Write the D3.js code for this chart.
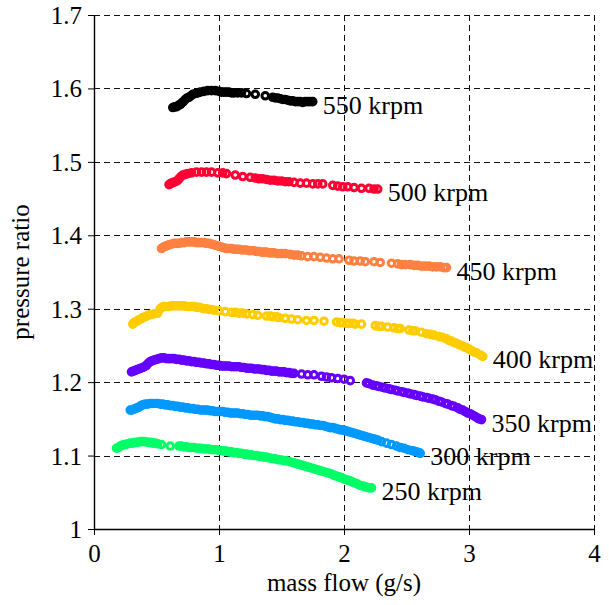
<!DOCTYPE html>
<html lang="en">
<head>
<meta charset="UTF-8" />
<title>pressure ratio vs mass flow</title>
<script src="https://d3js.org/d3.v7.min.js"></script>
<style>
  body { margin: 0; background: #fff; }
  text { font-family: "Liberation Serif", "Times New Roman", serif; fill: #000; }
</style>
</head>
<body>
<div class="canvas"></div>
<script>
// speed lines (krpm) and the measured points, [mass flow g/s, pressure ratio]
const speeds = ["550 krpm", "500 krpm", "450 krpm", "400 krpm", "350 krpm", "300 krpm", "250 krpm"];
const colors = ["#000000", "#ff0033", "#ff8040", "#ffcc00", "#6600ff", "#0099ff", "#00ff66"];

const s550 = [[0.63,1.574],[0.645,1.575],[0.66,1.575],[0.675,1.577],[0.69,1.578],[0.70,1.580],[0.715,1.582],[0.73,1.585],[0.745,1.587],[0.76,1.588],[0.775,1.590],[0.79,1.592],[0.81,1.593],[0.83,1.594],[0.85,1.595],[0.88,1.596],[0.91,1.597],[0.94,1.597],[0.97,1.597],[1.00,1.596],[1.02,1.595],[1.04,1.595],[1.06,1.595],[1.08,1.595],[1.10,1.594],[1.12,1.594],[1.15,1.594],[1.18,1.594],[1.22,1.593],[1.29,1.592],[1.37,1.590],[1.43,1.588],[1.45,1.587],[1.47,1.587],[1.49,1.586],[1.51,1.585],[1.53,1.585],[1.55,1.584],[1.57,1.583],[1.59,1.583],[1.61,1.582],[1.63,1.582],[1.65,1.582],[1.67,1.581],[1.69,1.582],[1.71,1.582],[1.73,1.582],[1.75,1.582]];
const s500 = [[0.60,1.469],[0.61,1.470],[0.62,1.471],[0.635,1.472],[0.65,1.473],[0.665,1.474],[0.68,1.477],[0.695,1.480],[0.71,1.482],[0.73,1.483],[0.75,1.484],[0.78,1.485],[0.82,1.486],[0.86,1.486],[0.90,1.486],[0.94,1.486],[0.99,1.485],[1.03,1.485],[1.06,1.484],[1.13,1.482],[1.19,1.480],[1.25,1.479],[1.29,1.478],[1.32,1.477],[1.35,1.477],[1.38,1.476],[1.41,1.475],[1.44,1.475],[1.47,1.474],[1.50,1.474],[1.53,1.473],[1.56,1.473],[1.60,1.472],[1.65,1.471],[1.70,1.471],[1.75,1.470],[1.79,1.470],[1.83,1.470],[1.91,1.468],[1.95,1.467],[1.99,1.466],[2.03,1.466],[2.08,1.465],[2.14,1.464],[2.20,1.464],[2.24,1.463],[2.27,1.463]];
const s450 = [[0.54,1.382],[0.555,1.384],[0.57,1.385],[0.585,1.386],[0.60,1.387],[0.62,1.388],[0.64,1.389],[0.66,1.389],[0.68,1.389],[0.70,1.390],[0.72,1.390],[0.74,1.391],[0.76,1.391],[0.78,1.391],[0.80,1.391],[0.82,1.390],[0.84,1.390],[0.86,1.390],[0.88,1.390],[0.90,1.389],[0.92,1.389],[0.94,1.388],[0.96,1.387],[0.98,1.386],[1.00,1.385],[1.02,1.384],[1.04,1.383],[1.06,1.382],[1.08,1.382],[1.10,1.382],[1.12,1.381],[1.14,1.381],[1.16,1.381],[1.18,1.380],[1.20,1.380],[1.22,1.380],[1.24,1.379],[1.26,1.379],[1.28,1.379],[1.30,1.378],[1.32,1.378],[1.34,1.377],[1.36,1.377],[1.38,1.377],[1.40,1.376],[1.42,1.376],[1.44,1.376],[1.47,1.375],[1.50,1.375],[1.53,1.375],[1.57,1.374],[1.60,1.373],[1.63,1.373],[1.66,1.372],[1.71,1.371],[1.76,1.371],[1.81,1.370],[1.86,1.369],[1.91,1.368],[1.96,1.368],[2.04,1.366],[2.08,1.365],[2.13,1.365],[2.17,1.364],[2.24,1.364],[2.29,1.363],[2.38,1.362],[2.43,1.361],[2.46,1.360],[2.49,1.360],[2.53,1.360],[2.56,1.359],[2.59,1.359],[2.62,1.358],[2.65,1.358],[2.68,1.358],[2.71,1.357],[2.74,1.357],[2.77,1.357],[2.80,1.356],[2.82,1.356]];
const s400 = [[0.31,1.279],[0.32,1.281],[0.33,1.282],[0.345,1.283],[0.36,1.285],[0.375,1.286],[0.39,1.288],[0.41,1.289],[0.43,1.291],[0.45,1.292],[0.48,1.293],[0.51,1.294],[0.53,1.300],[0.545,1.302],[0.56,1.303],[0.58,1.303],[0.60,1.303],[0.62,1.304],[0.64,1.304],[0.66,1.304],[0.68,1.304],[0.70,1.304],[0.72,1.304],[0.74,1.303],[0.76,1.303],[0.78,1.303],[0.80,1.303],[0.82,1.302],[0.84,1.302],[0.86,1.301],[0.88,1.300],[0.90,1.300],[0.92,1.299],[0.94,1.299],[0.96,1.298],[1.00,1.297],[1.05,1.296],[1.10,1.295],[1.13,1.295],[1.16,1.294],[1.19,1.294],[1.22,1.293],[1.27,1.292],[1.31,1.291],[1.38,1.290],[1.41,1.290],[1.43,1.289],[1.46,1.289],[1.48,1.288],[1.53,1.287],[1.58,1.286],[1.63,1.285],[1.70,1.284],[1.76,1.284],[1.84,1.283],[1.94,1.282],[1.97,1.281],[1.99,1.281],[2.02,1.280],[2.04,1.280],[2.07,1.280],[2.09,1.279],[2.14,1.279],[2.25,1.277],[2.28,1.276],[2.30,1.276],[2.35,1.275],[2.40,1.274],[2.43,1.273],[2.45,1.273],[2.52,1.271],[2.55,1.270],[2.57,1.270],[2.62,1.268],[2.66,1.266],[2.69,1.265],[2.72,1.264],[2.76,1.262],[2.79,1.261],[2.82,1.259],[2.84,1.257],[2.86,1.256],[2.88,1.254],[2.90,1.253],[2.92,1.251],[2.94,1.250],[2.96,1.248],[2.98,1.247],[3.00,1.245],[3.02,1.243],[3.04,1.241],[3.06,1.240],[3.09,1.237],[3.11,1.235]];
const s350 = [[0.30,1.214],[0.315,1.215],[0.33,1.216],[0.345,1.217],[0.36,1.218],[0.375,1.219],[0.39,1.220],[0.405,1.221],[0.42,1.223],[0.435,1.226],[0.45,1.228],[0.465,1.229],[0.48,1.230],[0.50,1.231],[0.52,1.232],[0.54,1.233],[0.56,1.233],[0.58,1.232],[0.60,1.232],[0.62,1.232],[0.64,1.232],[0.66,1.231],[0.68,1.231],[0.70,1.230],[0.72,1.230],[0.74,1.229],[0.76,1.229],[0.78,1.228],[0.80,1.228],[0.82,1.227],[0.84,1.227],[0.86,1.226],[0.88,1.226],[0.90,1.225],[0.92,1.225],[0.94,1.224],[0.96,1.224],[0.98,1.223],[1.00,1.223],[1.02,1.222],[1.04,1.222],[1.06,1.222],[1.08,1.222],[1.10,1.221],[1.12,1.221],[1.14,1.221],[1.16,1.221],[1.18,1.220],[1.20,1.220],[1.22,1.219],[1.24,1.219],[1.26,1.219],[1.28,1.218],[1.30,1.218],[1.32,1.218],[1.34,1.217],[1.36,1.217],[1.38,1.216],[1.40,1.216],[1.42,1.215],[1.44,1.215],[1.46,1.215],[1.48,1.214],[1.50,1.214],[1.52,1.214],[1.54,1.213],[1.56,1.213],[1.58,1.212],[1.60,1.212],[1.66,1.211],[1.71,1.210],[1.76,1.210],[1.82,1.208],[1.86,1.207],[1.90,1.206],[1.95,1.205],[2.00,1.204],[2.05,1.202],[2.18,1.199],[2.20,1.198],[2.23,1.196],[2.26,1.195],[2.28,1.194],[2.31,1.193],[2.33,1.192],[2.36,1.191],[2.38,1.190],[2.41,1.189],[2.43,1.188],[2.46,1.187],[2.48,1.186],[2.51,1.185],[2.53,1.184],[2.56,1.183],[2.58,1.182],[2.61,1.181],[2.63,1.180],[2.66,1.179],[2.68,1.178],[2.71,1.177],[2.73,1.176],[2.76,1.174],[2.78,1.173],[2.81,1.171],[2.83,1.170],[2.86,1.168],[2.88,1.167],[2.91,1.165],[2.93,1.163],[2.95,1.162],[2.97,1.160],[2.99,1.158],[3.01,1.157],[3.03,1.155],[3.05,1.153],[3.07,1.151],[3.08,1.150],[3.10,1.149]];
const s300 = [[0.29,1.162],[0.30,1.162],[0.315,1.163],[0.33,1.164],[0.345,1.165],[0.36,1.166],[0.375,1.168],[0.39,1.169],[0.41,1.170],[0.43,1.170],[0.45,1.171],[0.47,1.171],[0.49,1.171],[0.51,1.171],[0.53,1.170],[0.55,1.170],[0.57,1.169],[0.59,1.169],[0.61,1.168],[0.63,1.168],[0.65,1.167],[0.67,1.167],[0.69,1.166],[0.71,1.166],[0.73,1.165],[0.75,1.165],[0.77,1.164],[0.79,1.164],[0.81,1.163],[0.83,1.163],[0.85,1.162],[0.87,1.162],[0.89,1.162],[0.91,1.162],[0.93,1.161],[0.95,1.161],[0.97,1.160],[0.99,1.160],[1.01,1.160],[1.03,1.160],[1.05,1.159],[1.07,1.159],[1.09,1.158],[1.11,1.158],[1.13,1.158],[1.15,1.158],[1.17,1.157],[1.19,1.157],[1.21,1.156],[1.23,1.156],[1.25,1.155],[1.27,1.155],[1.29,1.155],[1.31,1.155],[1.33,1.154],[1.35,1.154],[1.37,1.153],[1.39,1.153],[1.41,1.152],[1.43,1.151],[1.45,1.150],[1.47,1.150],[1.49,1.149],[1.51,1.149],[1.53,1.148],[1.55,1.148],[1.57,1.147],[1.59,1.147],[1.61,1.146],[1.63,1.146],[1.65,1.145],[1.67,1.145],[1.69,1.144],[1.71,1.144],[1.73,1.143],[1.75,1.143],[1.77,1.142],[1.79,1.142],[1.81,1.141],[1.83,1.141],[1.85,1.140],[1.87,1.139],[1.89,1.138],[1.91,1.138],[1.93,1.137],[1.95,1.136],[1.97,1.135],[1.99,1.135],[2.01,1.134],[2.03,1.133],[2.05,1.132],[2.07,1.131],[2.09,1.130],[2.11,1.129],[2.13,1.128],[2.15,1.127],[2.17,1.126],[2.19,1.125],[2.21,1.124],[2.23,1.123],[2.25,1.122],[2.27,1.121],[2.30,1.119],[2.34,1.117],[2.38,1.115],[2.42,1.113],[2.45,1.111],[2.48,1.110],[2.51,1.108],[2.54,1.107],[2.56,1.106],[2.58,1.105],[2.60,1.104],[2.61,1.103]];
const s250 = [[0.18,1.110],[0.195,1.111],[0.21,1.113],[0.225,1.114],[0.24,1.115],[0.255,1.115],[0.27,1.116],[0.29,1.117],[0.31,1.117],[0.33,1.118],[0.35,1.118],[0.37,1.119],[0.39,1.119],[0.41,1.119],[0.43,1.118],[0.45,1.118],[0.47,1.117],[0.49,1.117],[0.51,1.116],[0.54,1.115],[0.61,1.113],[0.68,1.113],[0.70,1.113],[0.72,1.112],[0.74,1.112],[0.76,1.111],[0.78,1.111],[0.80,1.111],[0.82,1.110],[0.84,1.110],[0.86,1.110],[0.88,1.109],[0.90,1.109],[0.92,1.109],[0.94,1.108],[0.96,1.108],[0.98,1.108],[1.00,1.107],[1.02,1.107],[1.04,1.106],[1.06,1.106],[1.08,1.105],[1.10,1.105],[1.12,1.104],[1.14,1.104],[1.16,1.103],[1.18,1.103],[1.20,1.102],[1.22,1.102],[1.24,1.101],[1.26,1.101],[1.28,1.100],[1.30,1.100],[1.32,1.099],[1.34,1.099],[1.36,1.098],[1.38,1.098],[1.40,1.097],[1.42,1.096],[1.44,1.096],[1.46,1.095],[1.48,1.094],[1.50,1.094],[1.52,1.093],[1.54,1.093],[1.56,1.092],[1.58,1.091],[1.60,1.090],[1.62,1.089],[1.64,1.088],[1.66,1.087],[1.68,1.086],[1.70,1.085],[1.72,1.084],[1.74,1.083],[1.76,1.082],[1.78,1.081],[1.80,1.080],[1.82,1.079],[1.84,1.078],[1.86,1.077],[1.88,1.076],[1.90,1.075],[1.92,1.073],[1.94,1.072],[1.96,1.071],[1.98,1.070],[2.00,1.068],[2.02,1.067],[2.04,1.066],[2.06,1.065],[2.08,1.063],[2.10,1.062],[2.12,1.060],[2.14,1.059],[2.16,1.058],[2.18,1.057],[2.20,1.056],[2.22,1.056]];
const series = [s550, s500, s450, s400, s350, s300, s250];

const xTicks = [0, 1, 2, 3, 4];
const yTicks = [1, 1.1, 1.2, 1.3, 1.4, 1.5, 1.6, 1.7];

const W = 609, H = 605;
const margin = { top: 15, right: 15, bottom: 76, left: 94 };
const plotW = W - margin.left - margin.right;
const plotH = H - margin.top - margin.bottom;

const svg = d3.select(".canvas").append("svg").attr("width", W).attr("height", H);
const g = svg.append("g").attr("transform", `translate(${margin.left},${margin.top})`);

const x = d3.scaleLinear().domain([0, 4]).range([0, plotW]);
const y = d3.scaleLinear().domain([1, 1.7]).range([plotH, 0]);

// dashed grid
g.selectAll(".hgrid").data(yTicks.slice(1)).enter().append("line")
  .attr("x1", 0).attr("x2", plotW)
  .attr("y1", d => Math.round(y(d)) + 0.5).attr("y2", d => Math.round(y(d)) + 0.5)
  .attr("stroke", "#111").attr("stroke-dasharray", "6,4");
g.selectAll(".vgrid").data(xTicks.slice(1)).enter().append("line")
  .attr("x1", d => Math.round(x(d)) + 0.5).attr("x2", d => Math.round(x(d)) + 0.5)
  .attr("y1", 0).attr("y2", plotH)
  .attr("stroke", "#111").attr("stroke-dasharray", "6,4");

// axes
const xAxis = g.append("g").attr("transform", `translate(0,${plotH})`)
  .call(d3.axisBottom(x).tickValues(xTicks).tickFormat(d3.format("d")).tickSize(6).tickSizeOuter(0));
const yAxis = g.append("g")
  .call(d3.axisLeft(y).tickValues(yTicks).tickFormat(d => d === 1 ? "1" : d3.format(".1f")(d)).tickSize(6).tickSizeOuter(0));
[xAxis, yAxis].forEach(a => {
  a.select(".domain").attr("stroke", "#000").attr("stroke-width", 1.4);
  a.selectAll(".tick line").attr("stroke", "#000");
  a.selectAll(".tick text").style("font-family", "Liberation Serif").style("font-size", "25px").attr("fill", "#000");
});
xAxis.selectAll(".tick text").attr("dy", "0.95em");
yAxis.selectAll(".tick text").attr("x", -12).attr("dy", "0.34em");

// points
series.forEach((pts, i) => {
  g.append("g").selectAll("circle").data(pts).enter().append("circle")
    .attr("cx", d => x(d[0])).attr("cy", d => y(d[1]))
    .attr("r", 3.3)
    .attr("fill", "none")
    .attr("stroke", colors[i])
    .attr("stroke-width", 3);
  const last = pts[pts.length - 1];
  g.append("text")
    .attr("x", x(last[0]) + 10)
    .attr("y", y(last[1]) + 12)
    .style("font-size", "26px")
    .text(speeds[i]);
});

// axis titles
svg.append("text")
  .attr("x", margin.left + plotW / 2).attr("y", 591)
  .attr("text-anchor", "middle").style("font-size", "25px")
  .text("mass flow (g/s)");
svg.append("text")
  .attr("transform", `translate(29,${margin.top + plotH / 2}) rotate(-90)`)
  .attr("text-anchor", "middle").style("font-size", "25px")
  .text("pressure ratio");
</script>
</body>
</html>
